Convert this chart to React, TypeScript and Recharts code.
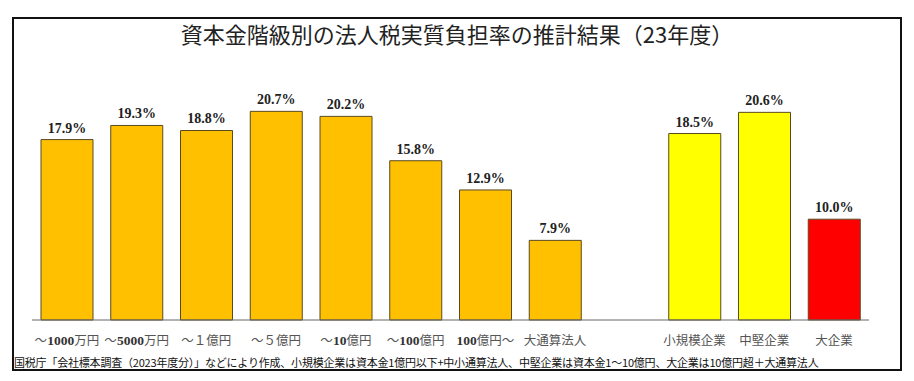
import React from 'react';
import { BarChart, Bar, XAxis, YAxis, Cell, LabelList } from 'recharts';

// categories (empty slot separates the two groups)
const categories = [
  '～1000万円',
  '～5000万円',
  '～１億円',
  '～５億円',
  '～10億円',
  '～100億円',
  '100億円～',
  '大通算法人',
  '',
  '小規模企業',
  '中堅企業',
  '大企業',
];

// effective burden rate (%)
const rates: (number | null)[] = [17.9, 19.3, 18.8, 20.7, 20.2, 15.8, 12.9, 7.9, null, 18.5, 20.6, 10.0];

const barColors = [
  '#FFC000', '#FFC000', '#FFC000', '#FFC000', '#FFC000', '#FFC000', '#FFC000', '#FFC000',
  '#FFFFFF', '#FFFF00', '#FFFF00', '#FF0000',
];

const title = '資本金階級別の法人税実質負担率の推計結果（23年度）';
const note =
  '国税庁「会社標本調査（2023年度分）」などにより作成、小規模企業は資本金1億円以下+中小通算法人、中堅企業は資本金1～10億円、大企業は10億円超＋大通算法人';

const data = categories.map((name, i) => ({ name, rate: rates[i] }));

const jp = '"Noto Sans CJK JP", sans-serif';
const serif = '"Liberation Serif", "DejaVu Serif", serif';

const CategoryTick = (props: any) => {
  const { x, y, payload } = props;
  const parts = String(payload.value).split(/(\d+)/).filter((p) => p !== '');
  return (
    <text x={x} y={y + 17} textAnchor="middle" fontSize={12.5} fill="#555" fontFamily={jp}>
      {parts.map((p, i) =>
        /^\d+$/.test(p) ? (
          <tspan key={i} fontFamily={serif} fontWeight="bold" fill="#333" fontSize={13.5}>
            {p}
          </tspan>
        ) : (
          <tspan key={i}>{p}</tspan>
        )
      )}
    </text>
  );
};

export default function App() {
  return (
    <div style={{ position: 'absolute', left: 0, top: 0, width: 914, height: 381, background: '#fff' }}>
      <div
        style={{
          position: 'absolute',
          left: 12,
          top: 17,
          width: 890,
          height: 354,
          border: '2px solid #111',
          boxSizing: 'border-box',
        }}
      />
      <div
        style={{
          position: 'absolute',
          left: 0,
          width: 914,
          top: 19,
          textAlign: 'center',
          fontFamily: jp,
          fontSize: 22,
          lineHeight: '28px',
          color: '#222',
        }}
      >
        {title}
      </div>
      <BarChart
        width={914}
        height={381}
        data={data}
        margin={{ top: 68, right: 45, bottom: 31, left: 32 }}
        style={{ position: 'absolute', left: 0, top: 0 }}
      >
        <XAxis
          dataKey="name"
          height={30}
          interval={0}
          tickLine={false}
          axisLine={{ stroke: '#666', strokeWidth: 1 }}
          tick={<CategoryTick />}
        />
        <YAxis hide domain={[0, 25]} />
        <Bar dataKey="rate" barSize={52} stroke="#5a4a20" strokeWidth={1} isAnimationActive={false}>
          {data.map((d, i) => (
            <Cell key={d.name + i} fill={barColors[i]} />
          ))}
          <LabelList
            dataKey="rate"
            position="top"
            offset={7}
            formatter={(v: any) => (v == null ? '' : Number(v).toFixed(1) + '%')}
            style={{ fontFamily: serif, fontWeight: 'bold', fontSize: 14, fill: '#222' }}
          />
        </Bar>
      </BarChart>
      <div
        style={{
          position: 'absolute',
          left: 14,
          top: 354,
          fontFamily: jp,
          fontSize: 11,
          lineHeight: '16px',
          letterSpacing: '-0.2px',
          color: '#111',
          whiteSpace: 'nowrap',
        }}
      >
        {note}
      </div>
    </div>
  );
}
